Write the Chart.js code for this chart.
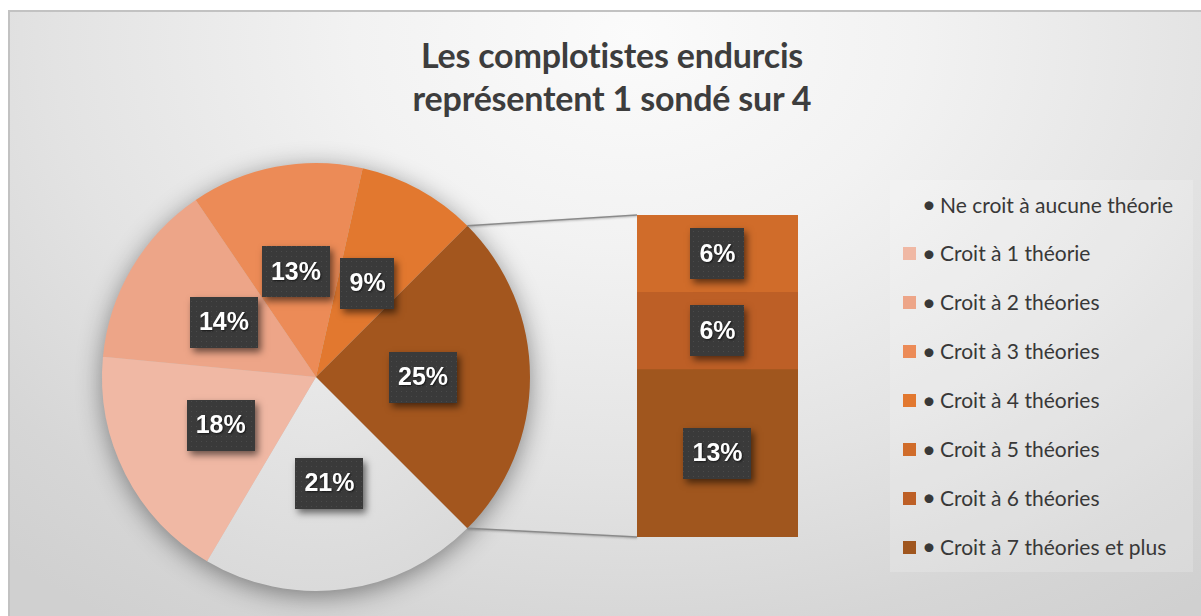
<!DOCTYPE html>
<html>
<head>
<meta charset="utf-8">
<script src="https://cdn.jsdelivr.net/npm/chart.js@4.4.1/dist/chart.umd.min.js"></script>
<style>
  html, body { margin:0; padding:0; background:#ffffff; }
  #root { position:relative; width:1201px; height:616px; overflow:hidden; background:#ffffff; }
  #panel { position:absolute; left:8px; top:10px; width:1200px; height:612px;
    border-top:2px solid #c2c2c2; border-left:2px solid #c2c2c2;
    background: radial-gradient(ellipse 78% 115% at 52% 4%, #fbfbfb 0%, #f2f2f2 30%, #e3e3e3 62%, #d6d6d6 85%, #d0d0d0 100%); }
  #title { position:absolute; left:312px; width:600px; top:33px; text-align:center;
    font-family:Lato, "Open Sans", sans-serif; font-weight:700; font-size:34px; line-height:43px; color:#3d3d3d; letter-spacing:-0.2px; }
  #legendBox { position:absolute; left:890px; top:180px; width:303px; height:392px; background:rgba(255,255,255,0.18); }
  .lg { position:absolute; height:24px; font-family:Lato, "Open Sans", sans-serif; font-size:21px; line-height:24px; color:#383838; white-space:nowrap; }
  .bl { font-size:24px; }
  .sq { position:absolute; width:13px; height:13px; }
  canvas { position:absolute; }
</style>
</head>
<body>
<div id="root">
  <div id="panel"></div>
  <div id="title">Les complotistes endurcis<br>représentent 1 sondé sur 4</div>
  <div id="legendBox"></div>
  <div id="legend"></div>
  <canvas id="pie" width="1201" height="616" style="left:0;top:0;"></canvas>
  <canvas id="bar" width="161" height="322" style="left:637px;top:215px;"></canvas>
</div>
<script>
// ---- data ----
const pieLabels = ['Ne croit à aucune théorie','Croit à 1 théorie','Croit à 2 théories','Croit à 3 théories','Croit à 4 théories','Croit à 5 théories et plus'];
const pieValues = [21, 18, 14, 13, 9, 25];
const barCategory = ['Croit à 5 théories et plus'];
const barSeriesLabels = ['Croit à 7 théories et plus','Croit à 6 théories','Croit à 5 théories'];
const barValues = [13, 6, 6];
const legendLabels = ['Ne croit à aucune théorie','Croit à 1 théorie','Croit à 2 théories','Croit à 3 théories','Croit à 4 théories','Croit à 5 théories','Croit à 6 théories','Croit à 7 théories et plus'];

// ---- styles ----
const pieColors = ['#dfdfdf','#f0b8a4','#eda588','#ec8b57','#e2782f','#a3561e'];
const barColors = ['#a0561e','#bd5f26','#d06c2a'];
const legendColors = ['transparent','#f0b8a4','#eda588','#ec8b57','#e2782f','#d06c2a','#bd5f26','#a0561e'];

// legend (text)
const legendEl = document.getElementById('legend');
legendLabels.forEach((lab, i) => {
  const yc = 205 + i * 48.9;
  const sq = document.createElement('div');
  sq.className = 'sq';
  sq.style.left = '903px'; sq.style.top = (yc - 6.5) + 'px';
  sq.style.background = legendColors[i];
  legendEl.appendChild(sq);
  const b = document.createElement('div');
  b.className = 'lg bl';
  b.style.left = '922px'; b.style.top = (yc - 13) + 'px';
  b.textContent = '\u2022';
  legendEl.appendChild(b);
  const t = document.createElement('div');
  t.className = 'lg';
  t.style.left = '940px'; t.style.top = (yc - 12.5) + 'px';
  t.textContent = lab;
  legendEl.appendChild(t);
});

// label box drawer
let dotPattern = null;
function getPattern(ctx) {
  if (dotPattern) return dotPattern;
  const c = document.createElement('canvas');
  c.width = 5; c.height = 5;
  const g = c.getContext('2d');
  g.fillStyle = '#3a3a3a'; g.fillRect(0,0,5,5);
  g.fillStyle = '#4a4a4a'; g.fillRect(1,1,1,1);
  dotPattern = ctx.createPattern(c, 'repeat');
  return dotPattern;
}
function drawLabel(ctx, x, y, text) {
  ctx.save();
  ctx.font = 'bold 25px "Liberation Sans", Arial, sans-serif';
  const w = ctx.measureText(text).width + 18;
  const h = 51;
  ctx.shadowColor = 'rgba(0,0,0,0.55)';
  ctx.shadowBlur = 7; ctx.shadowOffsetX = 3; ctx.shadowOffsetY = 4;
  ctx.fillStyle = '#3a3a3a';
  ctx.fillRect(Math.round(x - w/2), Math.round(y - h/2), Math.round(w), h);
  ctx.shadowColor = 'transparent';
  ctx.fillStyle = getPattern(ctx);
  ctx.fillRect(Math.round(x - w/2), Math.round(y - h/2), Math.round(w), h);
  ctx.shadowColor = 'rgba(0,0,0,0.6)';
  ctx.shadowBlur = 2; ctx.shadowOffsetX = 1; ctx.shadowOffsetY = 1;
  ctx.fillStyle = '#ffffff';
  ctx.textAlign = 'center'; ctx.textBaseline = 'middle';
  ctx.fillText(text, x, y + 1);
  ctx.restore();
}

// ---- bar chart (breakdown) ----
const barChart = new Chart(document.getElementById('bar'), {
  type: 'bar',
  data: {
    labels: barCategory,
    datasets: barSeriesLabels.map((lab, i) => ({
      label: lab, data: [barValues[i]], backgroundColor: barColors[i],
      borderWidth: 0, categoryPercentage: 1, barPercentage: 1
    }))
  },
  options: {
    responsive: false, animation: false,
    layout: { padding: 0 },
    plugins: { legend: { display: false }, tooltip: { enabled: false } },
    scales: {
      x: { stacked: true, display: false },
      y: { stacked: true, display: false, min: 0, max: barValues.reduce((a,b)=>a+b,0) }
    }
  },
  plugins: [{
    id: 'barLabels',
    afterDatasetsDraw(chart) {
      const ctx = chart.ctx;
      chart.data.datasets.forEach((ds, i) => {
        const el = chart.getDatasetMeta(i).data[0];
        const c = el.getCenterPoint();
        drawLabel(ctx, c.x, c.y, ds.data[0] + '%');
      });
    }
  }]
});

// ---- pie chart ----
const pieChart = new Chart(document.getElementById('pie'), {
  type: 'pie',
  data: {
    labels: pieLabels,
    datasets: [{
      data: pieValues,
      backgroundColor: (c) => {
        const col = pieColors[c.dataIndex];
        if (c.dataIndex !== 0 || !c.chart.chartArea) return col;
        const a = c.chart.chartArea;
        const cx = (a.left + a.right) / 2, cy = (a.top + a.bottom) / 2, r = (a.right - a.left) / 2;
        const g = c.chart.ctx.createRadialGradient(cx, cy, 0, cx, cy, r);
        g.addColorStop(0, '#e8e8e8'); g.addColorStop(1, '#dadada');
        return g;
      },
      borderWidth: 0
    }]
  },
  options: {
    responsive: false, animation: false,
    rotation: 135,
    layout: { padding: { left: 102, right: 671, top: 163, bottom: 25 } },
    plugins: { legend: { display: false }, tooltip: { enabled: false } }
  },
  plugins: [{
    id: 'pieShadow',
    beforeDatasetsDraw(chart) {
      const el = chart.getDatasetMeta(0).data[0];
      const ctx = chart.ctx;
      ctx.save();
      ctx.shadowColor = 'rgba(0,0,0,0.45)';
      ctx.shadowBlur = 26; ctx.shadowOffsetY = 5;
      ctx.fillStyle = '#c8c8c8';
      ctx.beginPath(); ctx.arc(el.x, el.y, el.outerRadius - 1, 0, Math.PI * 2); ctx.fill();
      ctx.restore();
    },
    afterDatasetsDraw(chart) {
      const ctx = chart.ctx;
      const meta = chart.getDatasetMeta(0);
      // connector lines from the "5+" slice to the breakdown bar
      const last = meta.data[meta.data.length - 1];
      const R = last.outerRadius;
      const p1 = { x: last.x + R * Math.cos(last.startAngle), y: last.y + R * Math.sin(last.startAngle) };
      const p2 = { x: last.x + R * Math.cos(last.endAngle), y: last.y + R * Math.sin(last.endAngle) };
      const bc = document.getElementById('bar');
      const ox = bc.offsetLeft, oy = bc.offsetTop;
      const topEl = barChart.getDatasetMeta(barChart.data.datasets.length - 1).data[0];
      const botEl = barChart.getDatasetMeta(0).data[0];
      const q1 = { x: ox + topEl.x - topEl.width / 2, y: oy + topEl.y };
      const q2 = { x: ox + botEl.x - botEl.width / 2, y: oy + botEl.base };
      ctx.save();
      ctx.strokeStyle = '#8a8a8a'; ctx.lineWidth = 1.6;
      ctx.shadowColor = 'rgba(0,0,0,0.25)'; ctx.shadowBlur = 2; ctx.shadowOffsetY = 1;
      ctx.beginPath(); ctx.moveTo(p1.x, p1.y); ctx.lineTo(q1.x, q1.y); ctx.stroke();
      ctx.beginPath(); ctx.moveTo(p2.x, p2.y); ctx.lineTo(q2.x, q2.y); ctx.stroke();
      ctx.restore();
      meta.data.forEach((el, i) => {
        const p = el.tooltipPosition();
        drawLabel(ctx, p.x, p.y, chart.data.datasets[0].data[i] + '%');
      });
    }
  }]
});
</script>
</body>
</html>
